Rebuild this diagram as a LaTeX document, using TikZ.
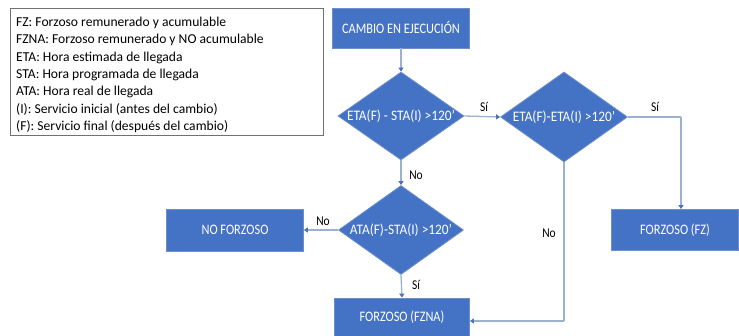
\documentclass[tikz,border=0pt]{standalone}
\usepackage{fontspec}
\setmainfont{Carlito}
\newfontfamily\condfont[FakeStretch=0.85]{Carlito}
\newfontfamily\conddfont[FakeStretch=0.92]{Carlito}
\usetikzlibrary{shapes.geometric,arrows.meta}
\definecolor{boxblue}{HTML}{4472C4}
\definecolor{boxedge}{HTML}{6F8FC8}
\definecolor{linecol}{HTML}{9BB1CD}
\definecolor{tipcol}{HTML}{4A72B8}
\definecolor{legedge}{HTML}{707070}
\tikzset{
  procbox/.style={draw=boxedge, line width=0.8pt, fill=boxblue, text=white, font=\condfont\fontsize{14.5}{16}\selectfont, inner sep=0pt},
  decbox/.style={diamond, draw=boxedge, line width=0.8pt, fill=boxblue, inner sep=0pt},
  dectext/.style={text=white, font=\conddfont\fontsize{14.5}{16}\selectfont, inner sep=0pt},
  conn/.style={draw=linecol, line width=1.3pt},
  arr/.style={conn, -{Triangle[length=4pt,width=5pt,color=tipcol]}},
  lbl/.style={font=\condfont\fontsize{13.5}{15}\selectfont, text=black, inner sep=0pt}
}
\begin{document}
\begin{tikzpicture}[x=1pt,y=-1pt]
\useasboundingbox (0,0) rectangle (739,336);
\fill[white] (0,0) rectangle (739,336);
% legend
\node[draw=legedge, line width=0.8pt, minimum width=313pt, minimum height=127pt, inner sep=0pt] (legend) at (166.5,71.5) {};
\node[anchor=north west, align=left, inner sep=0pt, font=\fontsize{13.6}{17.3}\selectfont] (legtext) at (16,17) {FZ: Forzoso remunerado y acumulable\\
FZNA: Forzoso remunerado y NO acumulable\\
ETA: Hora estimada de llegada\\
STA: Hora programada de llegada\\
ATA: Hora real de llegada\\
(I): Servicio inicial (antes del cambio)\\
(F): Servicio final (después del cambio)};
% nodes
\node[procbox, minimum width=137pt, minimum height=40pt] (cambio) at (401,28) {CAMBIO EN EJECUCIÓN};
\node[decbox, minimum width=126pt, minimum height=88pt] (d1) at (401,116) {};
\node[dectext] (t1) at (d1.center) {ETA(F) - STA(I) >120’};
\node[decbox, minimum width=127pt, minimum height=90pt] (d2) at (564,117) {};
\node[dectext] (t2) at (d2.center) {ETA(F)-ETA(I) >120’};
\node[decbox, minimum width=125pt, minimum height=89pt] (d3) at (401,230) {};
\node[dectext] (t3) at (d3.center) {ATA(F)-STA(I) >120’};
\node[procbox, minimum width=137pt, minimum height=42pt] (nof) at (235,230) {NO FORZOSO};
\node[procbox, minimum width=127pt, minimum height=41pt] (fz) at (675,230) {FORZOSO (FZ)};
\node[procbox, minimum width=135pt, minimum height=38pt] (fzna) at (402,317) {FORZOSO (FZNA)};
% connectors
\coordinate (c2) at (681,117);
\coordinate (c4) at (564,321);
\draw[arr] (cambio.south) -- (d1.north);
\draw[arr] (d1.east) -- (d2.west);
\draw[conn] (d2.east) -- (c2);
\draw[arr] (c2) -- (fz.north -| c2);
\draw[arr] (d1.south) -- (d3.north);
\draw[arr] (d3.west) -- (nof.east);
\draw[arr] (d3.south) -- (fzna.north);
\draw[conn] (d2.south) -- (c4);
\draw[arr] (c4) -- (c4 -| fzna.east);
% labels
\node[lbl] (l1) at (484,107) {Sí};
\node[lbl] (l2) at (655,107) {Sí};
\node[lbl] (l3) at (416,175) {No};
\node[lbl] (l4) at (323,221) {No};
\node[lbl] (l5) at (416,285) {Sí};
\node[lbl] (l6) at (549,233) {No};
\end{tikzpicture}
\end{document}
